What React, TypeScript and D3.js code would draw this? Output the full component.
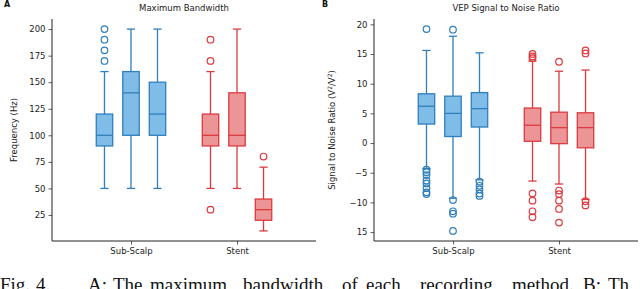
import React, { useRef, useEffect } from 'react';
import * as d3 from 'd3';

// categories and hue groups
const categories = ['Sub-Scalp', 'Stent'];
const hueOffsets = [-0.25, 0, 0.25];

interface BoxStat {
  lo: number;
  q1: number;
  med: number;
  q3: number;
  hi: number;
  outliers: number[];
}

// Panel A: maximum bandwidth (Hz)
const bandwidthSubScalp: BoxStat[] = [
  { lo: 50, q1: 90, med: 100, q3: 120, hi: 160, outliers: [170, 180, 190, 200] },
  { lo: 50, q1: 100, med: 140, q3: 160, hi: 200, outliers: [] },
  { lo: 50, q1: 100, med: 120, q3: 150, hi: 200, outliers: [] },
];
const bandwidthStent: BoxStat[] = [
  { lo: 50, q1: 90, med: 100, q3: 120, hi: 160, outliers: [170, 190, 30] },
  { lo: 50, q1: 90, med: 100, q3: 140, hi: 200, outliers: [] },
  { lo: 10, q1: 20, med: 30, q3: 40, hi: 70, outliers: [80] },
];
const bandwidthTicks = [25, 50, 75, 100, 125, 150, 175, 200];

// Panel B: VEP SNR
const snrSubScalp: BoxStat[] = [
  { lo: -4.3, q1: 3.2, med: 6.2, q3: 8.3, hi: 15.6, outliers: [19.2, -4.5, -4.9, -5.4, -6.3, -6.8, -7.6, -8.3, -8.6] },
  { lo: -9.3, q1: 1.1, med: 5.0, q3: 7.9, hi: 18.0, outliers: [19.1, -9.6, -11.5, -11.9, -14.8] },
  { lo: -6.2, q1: 2.7, med: 5.8, q3: 8.5, hi: 15.2, outliers: [-6.5, -7.2, -7.8, -8.5, -8.9] },
];
const snrStent: BoxStat[] = [
  { lo: -6.4, q1: 0.3, med: 3.0, q3: 5.9, hi: 13.8, outliers: [14.3, 14.6, 15.0, -8.5, -9.7, -11.5, -12.5] },
  { lo: -6.9, q1: -0.1, med: 2.6, q3: 5.2, hi: 12.1, outliers: [13.7, -8.0, -8.6, -9.7, -11.1, -13.4] },
  { lo: -9.5, q1: -0.8, med: 2.6, q3: 5.1, hi: 12.3, outliers: [15.1, 15.6, -9.8, -10.5] },
];
const snrTicks = [-15, -10, -5, 0, 5, 10, 15, 20];
const snrTickLabels = ['15', '\u221210', '\u22125', '0', '5', '10', '15', '20'];

// caption words (cut off at the bottom of the picture)
const captionWords = ['Fig.', '4.', 'A:', 'The', 'maximum', 'bandwidth', 'of', 'each', 'recording', 'method.', 'B:', 'Th'];
const captionX = [0, 36, 88, 113, 150, 243, 342, 366, 420, 512, 583, 608];

const COLORS = [
  { fill: '#80bce8', stroke: '#2f7fbd' },
  { fill: '#eb9597', stroke: '#dc3a3e' },
];

const FONT = 'DejaVu Sans, sans-serif';

interface PanelProps {
  left: number;
  axisX: number;
  title: string;
  letter: string;
  yLabel: React.ReactNode;
  groups: BoxStat[][];
  yDomain: [number, number];
  ticks: number[];
  tickLabels?: string[];
}

const Panel: React.FC<PanelProps> = ({ left, axisX, title, letter, yLabel, groups, yDomain, ticks, tickLabels }) => {
  const gRef = useRef<SVGGElement>(null);
  const top = 19;
  const bottom = 241;
  const axisRight = axisX + 264;

  useEffect(() => {
    if (!gRef.current) return;
    const g = d3.select(gRef.current);
    g.selectAll('*').remove();

    const x = d3.scaleLinear().domain([-0.745, 1.745]).range([axisX, axisRight]);
    const y = d3.scaleLinear().domain(yDomain).range([bottom, top]);
    const boxW = 0.155;

    // axes
    const yAxis = d3
      .axisLeft(y)
      .tickValues(ticks)
      .tickSize(3.5)
      .tickPadding(3)
      .tickFormat((d, i) => (tickLabels ? tickLabels[i] : String(d)));
    const ya = g.append('g').attr('transform', `translate(${axisX},0)`).call(yAxis);
    ya.select('.domain').remove();
    ya.selectAll('line').attr('stroke', '#333').attr('stroke-width', 0.8);
    ya.selectAll('text').attr('font-family', FONT).attr('font-size', 8.5).attr('fill', '#222');

    const xAxis = d3
      .axisBottom(x)
      .tickValues([0, 1])
      .tickSize(3.5)
      .tickPadding(3)
      .tickFormat((d, i) => categories[i]);
    const xa = g.append('g').attr('transform', `translate(0,${bottom})`).call(xAxis);
    xa.select('.domain').remove();
    xa.selectAll('line').attr('stroke', '#333').attr('stroke-width', 0.8);
    xa.selectAll('text').attr('font-family', FONT).attr('font-size', 8.5).attr('fill', '#222');

    // spines
    g.append('line').attr('x1', axisX).attr('x2', axisX).attr('y1', top).attr('y2', bottom)
      .attr('stroke', '#222').attr('stroke-width', 1);
    g.append('line').attr('x1', axisX).attr('x2', axisRight).attr('y1', bottom).attr('y2', bottom)
      .attr('stroke', '#222').attr('stroke-width', 1);

    groups.forEach((boxes, ci) => {
      const c = COLORS[ci];
      boxes.forEach((b, hi) => {
        const cx = x(ci + hueOffsets[hi]);
        const x0 = x(ci + hueOffsets[hi] - boxW / 2);
        const x1 = x(ci + hueOffsets[hi] + boxW / 2);
        const capHalf = (x1 - x0) / 4;
        const bg = g.append('g');

        // whiskers
        bg.append('line').attr('x1', cx).attr('x2', cx).attr('y1', y(b.q3)).attr('y2', y(b.hi))
          .attr('stroke', c.stroke).attr('stroke-width', 1.3);
        bg.append('line').attr('x1', cx).attr('x2', cx).attr('y1', y(b.q1)).attr('y2', y(b.lo))
          .attr('stroke', c.stroke).attr('stroke-width', 1.3);
        [b.lo, b.hi].forEach((v) => {
          bg.append('line').attr('x1', cx - capHalf).attr('x2', cx + capHalf).attr('y1', y(v)).attr('y2', y(v))
            .attr('stroke', c.stroke).attr('stroke-width', 1.3);
        });

        // box
        bg.append('rect')
          .attr('x', x0)
          .attr('y', y(b.q3))
          .attr('width', x1 - x0)
          .attr('height', y(b.q1) - y(b.q3))
          .attr('fill', c.fill)
          .attr('stroke', c.stroke)
          .attr('stroke-width', 1.3);

        // median
        bg.append('line').attr('x1', x0).attr('x2', x1).attr('y1', y(b.med)).attr('y2', y(b.med))
          .attr('stroke', c.stroke).attr('stroke-width', 1.3);

        // outliers
        bg.selectAll('circle.out')
          .data(b.outliers)
          .enter()
          .append('circle')
          .attr('class', 'out')
          .attr('cx', cx)
          .attr('cy', (d) => y(d))
          .attr('r', 3.3)
          .attr('fill', 'none')
          .attr('stroke', c.stroke)
          .attr('stroke-width', 1.2);
      });
    });
  }, [axisX, axisRight, groups, yDomain, ticks, tickLabels]);

  const midY = (top + bottom) / 2;
  return (
    <g>
      <text x={left + 4} y={7} fontFamily={FONT} fontSize={8} fontWeight="bold" fill="#111">
        {letter}
      </text>
      <text x={(axisX + axisRight) / 2} y={11} textAnchor="middle" fontFamily={FONT} fontSize={8.5} fill="#222">
        {title}
      </text>
      <text
        transform={`translate(${left + 17},${midY}) rotate(-90)`}
        textAnchor="middle"
        fontFamily={FONT}
        fontSize={8.5}
        fill="#222"
      >
        {yLabel}
      </text>
      <g ref={gRef} />
    </g>
  );
};

export default function App() {
  return (
    <svg
      width={640}
      height={289}
      style={{ position: 'absolute', left: 0, top: 0, background: '#fff' }}
    >
      <Panel
        left={0}
        axisX={52}
        title="Maximum Bandwidth"
        letter="A"
        yLabel="Frequency (Hz)"
        groups={[bandwidthSubScalp, bandwidthStent]}
        yDomain={[0.5, 209.5]}
        ticks={bandwidthTicks}
      />
      <Panel
        left={318}
        axisX={374}
        title="VEP Signal to Noise Ratio"
        letter="B"
        yLabel={
          <>
            Signal to Noise Ratio (V<tspan dy={-3} fontSize={6}>2</tspan>
            <tspan dy={3}>/V</tspan>
            <tspan dy={-3} fontSize={6}>2</tspan>
            <tspan dy={3}>)</tspan>
          </>
        }
        groups={[snrSubScalp, snrStent]}
        yDomain={[-16.5, 20.9]}
        ticks={snrTicks}
        tickLabels={snrTickLabels}
      />
      <text y={291} fontFamily="Liberation Serif, serif" fontSize={19} fill="#111">
        {captionWords.map((w, i) => (
          <tspan key={i} x={captionX[i]}>
            {w}
          </tspan>
        ))}
      </text>
    </svg>
  );
}
